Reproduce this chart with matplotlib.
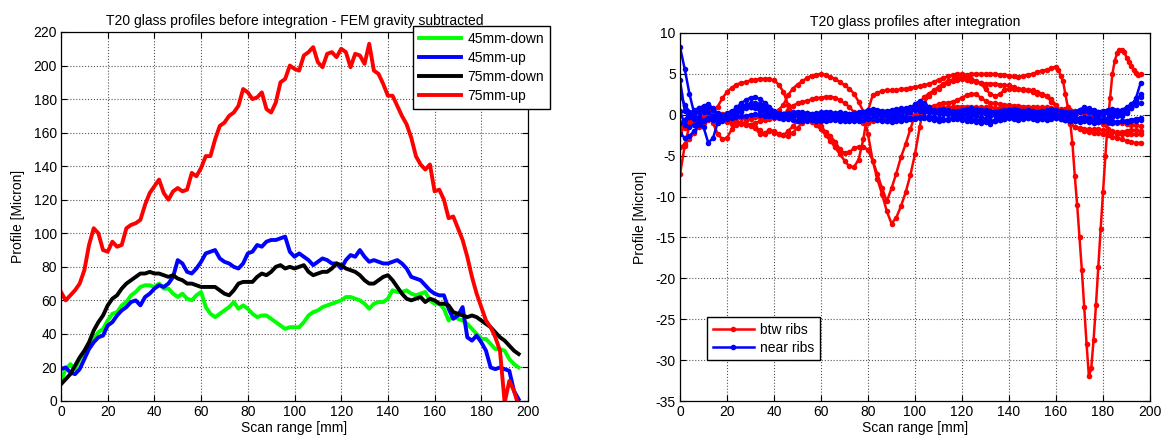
import numpy as np
import matplotlib
matplotlib.use("Agg")
import matplotlib.pyplot as plt

plt.rcParams['font.family'] = ['Liberation Sans', 'DejaVu Sans']
plt.rcParams['font.size'] = 10
plt.rcParams['axes.unicode_minus'] = False

# ---------------- left panel: profiles before integration ----------------
scan_mm = np.arange(0, 197, 2)

up_75 = [65, 60, 63, 66, 70, 78, 93, 103, 100, 90, 89, 95, 92, 93, 103, 105, 106, 108, 117, 124,
         128, 132, 124, 120, 125, 127, 125, 126, 136, 134, 139, 146, 146, 156, 164, 166, 170, 172, 176, 186,
         184, 180, 181, 184, 174, 172, 178, 190, 192, 200, 198, 197, 206, 208, 211, 202, 199, 207, 208, 205,
         210, 208, 199, 207, 206, 201, 213, 197, 195, 189, 182, 182, 176, 170, 165, 157, 146, 141, 138, 141,
         125, 126, 120, 109, 110, 103, 96, 86, 74, 64, 56, 48, 44, 38, 30, -1, 12, 6, -3]
up_45 = [19, 20, 17, 16, 19, 25, 31, 35, 38, 39, 45, 47, 51, 54, 56, 59, 60, 57, 62, 64,
         67, 69, 68, 70, 74, 84, 82, 77, 76, 79, 83, 88, 89, 90, 85, 83, 82, 80, 79, 82,
         88, 89, 93, 92, 95, 96, 96, 97, 98, 89, 86, 88, 86, 84, 81, 83, 85, 84, 82, 82,
         79, 84, 87, 86, 90, 86, 83, 84, 83, 82, 82, 83, 84, 82, 79, 74, 73, 72, 69, 66,
         64, 63, 63, 55, 49, 51, 56, 38, 36, 39, 35, 30, 20, 19, 20, 19, 18, 6, 1]
down_75 = [10, 13, 16, 21, 26, 30, 35, 42, 47, 51, 57, 61, 63, 67, 70, 72, 74, 76, 76, 77,
           76, 76, 75, 74, 75, 73, 72, 70, 70, 69, 68, 68, 68, 68, 66, 64, 63, 66, 70, 71,
           71, 71, 74, 76, 75, 77, 80, 81, 79, 80, 79, 80, 81, 77, 75, 76, 77, 77, 79, 82,
           81, 79, 78, 77, 75, 72, 70, 70, 72, 74, 75, 72, 68, 64, 61, 60, 61, 62, 59, 61,
           60, 58, 58, 57, 53, 52, 51, 50, 51, 50, 48, 46, 44, 41, 38, 36, 33, 30, 28]
down_45 = [12, 19, 22, 19, 25, 29, 33, 37, 41, 43, 48, 52, 53, 57, 59, 63, 65, 68, 69, 69,
           68, 70, 67, 67, 64, 62, 64, 61, 60, 63, 65, 56, 52, 50, 52, 54, 56, 59, 55, 57,
           55, 52, 50, 51, 51, 49, 47, 45, 43, 44, 44, 44, 47, 51, 53, 54, 56, 57, 58, 59,
           60, 62, 62, 61, 60, 58, 55, 58, 59, 59, 61, 66, 65, 65, 66, 64, 63, 64, 65, 60,
           58, 58, 55, 48, 51, 49, 48, 46, 43, 40, 37, 37, 34, 31, 31, 30, 25, 22, 20]

left_series = [("45mm-down", down_45, "#00ff00"),
               ("45mm-up", up_45, "#0000ff"),
               ("75mm-down", down_75, "#000000"),
               ("75mm-up", up_75, "#ff0000")]

# ---------------- right panel: profiles after integration ----------------
# "between ribs" scans
btw_1_x = list(range(0, 160, 2)) + list(range(160, 197))
btw_1 = [-1.8, -1.2, -0.8, -0.5, -0.3, -0.2, 0.0, 0.4, 1.0, 2.0, 2.8, 3.3, 3.7, 3.9, 4.0, 4.2, 4.3, 4.4, 4.4, 4.4,
         4.2, 3.7, 2.8, 1.2, 0.2, -0.2, -0.4, -0.6, -0.9, -1.3, -1.8, -2.5, -3.2, -4.0, -4.8, -5.6, -6.3, -6.4, -5.5, -3.0,
         0.5, 2.4, 2.7, 2.9, 3.0, 3.0, 3.0, 3.1, 3.2, 3.3, 3.4, 3.5, 3.6, 3.8, 4.0, 4.3, 4.5, 4.7, 4.9, 5.0,
         5.0, 4.9, 5.0, 5.0, 5.0, 5.0, 5.0, 5.0, 4.9, 4.9, 4.8, 4.7, 4.6, 4.8, 4.9, 5.0, 5.2, 5.4, 5.5, 5.7,
         5.9, 5.5, 4.8, 4.1, 2.5, 1.0, -0.8, -3.5, -7.5, -11.0, -15.0, -19.0, -23.5, -28.0, -32.0, -31.0, -27.5,
         -23.3, -18.6, -14.0, -9.5, -5.1, -1.0, 2.0, 5.0, 6.6, 7.5, 7.9, 7.9, 7.7, 7.0, 6.5, 6.0, 5.5, 5.1, 4.9, 5.0]
btw_2 = [-4.0, -3.6, -3.0, -2.2, -1.5, -1.0, -0.6, -0.3, -0.2, -0.3, -0.5, -0.6, -0.8, -1.0, -1.1, -1.2, -1.0, -0.8, -0.6, -0.2,
         0.2, 0.6, 1.2, 2.4, 3.2, 3.7, 4.1, 4.5, 4.8, 4.9, 5.0, 4.9, 4.6, 4.4, 4.0, 3.6, 3.2, 2.6, 1.6, 0.4,
         -2.4, -5.6, -7.9, -9.7, -11.8, -13.3, -12.6, -11.2, -9.5, -7.4, -4.8, -1.5, 1.5, 2.3, 2.8, 3.2, 3.6, 3.9, 4.1, 4.3,
         4.4, 4.3, 4.1, 4.0, 3.9, 3.8, 3.8, 3.8, 3.7, 3.6, 3.6, 3.4, 3.2, 3.1, 3.0, 2.8, 2.6, 2.4, 2.3, 1.6,
         1.0, 0.5, -0.3, -1.0, -1.5, -1.8, -2.0, -2.1, -2.2, -2.2, -2.4, -2.5, -2.7, -2.8, -3.0, -3.2, -3.3, -3.5, -3.4]
btw_3 = [-1.5, -1.0, -0.5, 0.0, 0.5, 0.6, 0.2, -1.0, -2.3, -3.0, -2.8, -1.8, -1.2, -1.0, -1.1, -1.3, -1.5, -1.9, -2.4, -2.0,
         -2.2, -2.4, -2.5, -2.0, -1.4, -0.8, -0.3, -0.1, -0.3, -0.8, -1.4, -2.1, -2.6, -3.3, -4.2, -4.7, -4.6, -4.1, -3.9, -3.9,
         -4.3, -5.6, -7.3, -9.0, -10.6, -9.0, -7.2, -5.2, -3.6, -1.8, 0.0, 1.5, 2.2, 2.6, 3.0, 3.4, 3.8, 4.1, 4.3, 4.5,
         4.6, 4.6, 4.4, 4.1, 3.9, 3.1, 2.6, 2.3, 2.5, 3.0, 3.2, 3.2, 3.1, 3.0, 3.0, 3.0, 2.8, 2.6, 2.3, 1.9,
         1.2, 0.3, -0.6, -1.1, -1.5, -1.6, -1.7, -1.8, -1.8, -1.8, -1.9, -2.0, -2.1, -2.1, -2.1, -2.0, -1.9, -1.9, -2.0]
btw_4 = [-2.0, -1.6, -1.2, -0.8, -0.5, -0.3, -0.2, -0.1, 0.0, 0.1, 0.1, 0.0, -0.2, -0.4, -0.6, -0.5, -0.3, -0.3, -0.4, -0.5,
         -0.4, -0.2, 0.1, 0.6, 1.1, 1.4, 1.6, 1.7, 1.9, 2.0, 2.1, 2.2, 2.2, 2.1, 1.8, 1.4, 1.0, 0.3, -0.6, -1.0,
         -1.0, -0.8, -0.6, -0.5, -0.4, -0.4, -0.4, -0.3, -0.3, -0.2, -0.1, 0.2, 0.6, 0.9, 1.1, 1.3, 1.4, 1.5, 1.6, 1.8,
         2.1, 2.4, 2.6, 2.5, 2.1, 1.7, 1.5, 1.4, 1.3, 1.2, 1.2, 1.1, 1.1, 1.0, 1.0, 0.9, 0.9, 0.9, 0.9, 0.8,
         0.5, 0.5, 0.5, 0.4, 0.4, 0.3, 0.3, 0.1, -0.2, -0.6, -1.1, -1.7, -2.0, -2.3, -2.4, -2.4, -2.4, -2.4, -2.3]
btw_5 = [-7.3, -3.8, -1.3, 0.2, 0.8, 0.9, 0.8, 0.5, 0.1, -0.4, -0.9, -1.1, -1.1, -1.1, -1.2, -1.4, -1.6, -2.4, -2.2, -1.9,
         -2.0, -2.3, -2.5, -2.6, -2.2, -1.6, -1.0, -0.5, -0.2, 0.0, 0.1, 0.2, 0.2, 0.1, 0.0, -0.1, -0.2, -0.3, -0.4, -0.4,
         -0.4, -0.4, -0.5, -0.5, -0.5, -0.4, -0.3, -0.3, -0.2, -0.1, 0.0, 0.2, 0.4, 0.6, 0.7, 0.8, 0.8, 0.9, 0.9, 1.0,
         1.0, 1.0, 1.0, 0.9, 0.9, 0.9, 0.9, 0.8, 0.8, 0.8, 0.8, 0.8, 0.8, 0.7, 0.7, 0.7, 0.7, 0.7, 0.6, 0.6,
         0.6, 0.7, 0.7, 0.6, 0.5, 0.4, 0.2, 0.0, -0.3, -0.6, -0.9, -1.0, -1.0, -1.0, -1.0, -1.1, -1.2, -1.3, -1.4]

# "near ribs" scans
near_1 = [8.3, 5.6, 2.6, 0.2, -0.8, -1.5, -3.4, -2.9, -1.0, -0.4, -0.2, 0.0, 0.2, 0.5, 0.9, 1.2, 1.1, 0.8, 0.5, 0.3,
          0.2, 0.1, 0.1, 0.0, 0.1, 0.2, 0.1, 0.0, -0.1, 0.0, 0.1, 0.2, 0.1, 0.0, -0.1, -0.2, -0.1, 0.0, 0.1, 0.3,
          0.5, 0.4, 0.3, 0.2, 0.2, 0.1, 0.1, 0.2, 0.3, 0.4, 0.6, 0.5, 0.4, 0.3, 0.2, 0.2, 0.1, 0.1, 0.2, 0.3,
          0.2, 0.1, 0.0, 0.1, 0.2, 0.1, -0.2, 0.0, 0.1, 0.1, 0.2, 0.3, 0.2, 0.1, 0.0, 0.1, 0.2, 0.2, 0.3, 0.2,
          0.1, 0.0, -0.2, -0.3, 0.0, 0.3, 0.5, 0.4, 0.1, -0.1, 0.0, 0.2, 0.1, 0.0, 0.1, 0.4, 1.0, 2.0, 3.9]
near_2 = [4.2, 0.5, -0.3, -0.5, -0.3, 0.4, 1.0, 0.6, -0.1, -0.3, -0.2, 0.3, 0.9, 1.4, 1.8, 2.1, 2.2, 1.9, 1.5, 1.0,
          0.5, 0.1, -0.1, -0.2, -0.1, 0.0, -0.1, -0.3, -0.4, -0.3, -0.2, -0.1, -0.2, -0.3, -0.4, -0.5, -0.4, -0.3, -0.2, -0.1,
          0.0, 0.1, 0.0, -0.1, -0.2, -0.3, -0.2, 0.0, 0.3, 0.8, 1.3, 1.7, 1.5, 0.9, 0.5, 0.3, 0.2, 0.1, 0.0, -0.1,
          0.0, 0.1, 0.0, -0.2, -0.3, -0.5, -0.9, -0.6, -0.3, -0.2, -0.1, 0.0, 0.1, 0.0, -0.1, -0.2, -0.1, 0.0, 0.1, 0.0,
          -0.1, -0.2, -0.3, -0.4, -0.5, -0.4, -0.3, -0.4, -0.5, -0.6, -0.5, -0.4, -0.3, -0.2, -0.1, 0.2, 0.8, 1.6, 2.5]
near_3 = [2.5, 1.2, 0.4, 0.0, 0.3, 0.6, 0.3, -0.2, -0.5, -0.4, -0.1, 0.2, 0.6, 0.9, 1.2, 1.4, 1.5, 1.3, 1.0, 0.7,
          0.4, 0.2, 0.1, 0.2, 0.3, 0.4, 0.3, 0.2, 0.1, 0.2, 0.3, 0.4, 0.3, 0.2, 0.1, 0.0, 0.1, 0.2, 0.3, 0.4,
          0.6, 0.7, 0.6, 0.5, 0.4, 0.4, 0.5, 0.6, 0.7, 0.8, 0.9, 0.8, 0.7, 0.6, 0.5, 0.6, 0.7, 0.6, 0.5, 0.4,
          0.5, 0.6, 0.5, 0.4, 0.5, 0.6, 0.5, 0.4, 0.5, 0.6, 0.6, 0.5, 0.4, 0.5, 0.6, 0.5, 0.4, 0.5, 0.6, 0.7,
          0.6, 0.5, 0.4, 0.3, 0.4, 0.6, 0.8, 0.7, 0.5, 0.4, 0.5, 0.6, 0.5, 0.4, 0.6, 0.9, 1.3, 1.8, 2.2]
near_4 = [-2.3, -2.8, -2.6, -2.0, -1.3, -0.8, -0.5, -0.6, -0.8, -0.7, -0.5, -0.4, -0.3, -0.2, -0.1, 0.0, 0.1, 0.0, -0.1, -0.2,
          -0.3, -0.4, -0.5, -0.4, -0.3, -0.2, -0.3, -0.4, -0.5, -0.6, -0.5, -0.4, -0.5, -0.6, -0.7, -0.6, -0.5, -0.6, -0.7, -0.6,
          -0.5, -0.4, -0.5, -0.6, -0.7, -0.6, -0.5, -0.4, -0.3, -0.4, -0.5, -0.4, -0.3, -0.2, -0.3, -0.4, -0.5, -0.6, -0.5, -0.4,
          -0.3, -0.4, -0.5, -0.6, -0.7, -0.8, -1.1, -0.8, -0.6, -0.5, -0.4, -0.5, -0.6, -0.5, -0.4, -0.3, -0.4, -0.5, -0.6, -0.5,
          -0.4, -0.5, -0.6, -0.7, -0.8, -0.7, -0.6, -0.7, -0.8, -0.9, -0.8, -0.7, -0.8, -0.9, -0.8, -0.7, -0.6, -0.5, -0.4]
near_5 = [-1.0, -0.6, 0.1, 0.6, 0.8, 1.1, 1.3, 0.8, 0.2, -0.2, -0.4, -0.3, 0.0, 0.4, 0.8, 1.0, 0.9, 0.7, 0.4, 0.1,
          -0.1, -0.2, -0.3, -0.2, -0.1, 0.0, 0.1, 0.2, 0.1, 0.0, -0.1, 0.0, 0.1, 0.2, 0.3, 0.2, 0.1, 0.0, -0.1, 0.0,
          0.1, 0.2, 0.3, 0.4, 0.5, 0.6, 0.7, 0.8, 0.8, 0.9, 1.0, 1.1, 0.9, 0.7, 0.6, 0.5, 0.4, 0.3, 0.4, 0.5,
          0.6, 0.7, 0.8, 0.7, 0.6, 0.5, 0.4, 0.3, 0.4, 0.5, 0.6, 0.7, 0.6, 0.5, 0.4, 0.3, 0.2, 0.1, 0.0, -0.1,
          -0.2, -0.3, -0.2, 0.0, 0.3, 0.6, 0.9, 0.8, 0.6, 0.4, 0.3, 0.5, 0.7, 0.6, 0.5, 0.6, 0.8, 1.2, 1.5]
near_6 = [0.5, -1.2, -1.5, -1.2, -0.9, -0.6, -0.4, -0.3, -0.2, 0.0, 0.2, 0.5, 0.7, 0.9, 1.1, 1.0, 0.8, 0.5, 0.2, 0.0,
          -0.2, -0.3, -0.4, -0.5, -0.6, -0.7, -0.8, -0.7, -0.6, -0.7, -0.8, -0.7, -0.6, -0.5, -0.6, -0.7, -0.8, -0.7, -0.6, -0.5,
          -0.4, -0.5, -0.6, -0.7, -0.8, -0.9, -0.8, -0.7, -0.6, -0.5, -0.4, -0.3, -0.4, -0.5, -0.6, -0.7, -0.6, -0.5, -0.4, -0.5,
          -0.6, -0.7, -0.8, -0.9, -1.0, -0.9, -0.8, -0.7, -0.6, -0.5, -0.4, -0.3, -0.2, -0.3, -0.4, -0.5, -0.6, -0.5, -0.4, -0.3,
          -0.4, -0.5, -0.6, -0.7, -0.8, -0.9, -0.8, -0.9, -1.0, -0.9, -0.8, -0.9, -1.0, -0.9, -0.8, -0.9, -0.8, -0.7, -0.6]

btw_scans = [(btw_1_x, btw_1), (scan_mm, btw_2), (scan_mm, btw_3), (scan_mm, btw_4), (scan_mm, btw_5)]
near_scans = [near_1, near_2, near_3, near_4, near_5, near_6]

# ---------------- figure ----------------
W, H = 1170, 441
fig = plt.figure(figsize=(W / 100, H / 100), dpi=100)
ax1 = fig.add_axes([61 / W, 1 - 401 / H, (528 - 61) / W, (401 - 32) / H])
ax2 = fig.add_axes([680 / W, 1 - 401 / H, (1150 - 680) / W, (401 - 33) / H])


def matlab_style(ax):
    ax.grid(True, linestyle=':', color='#555555', linewidth=0.8)
    ax.set_axisbelow(True)
    ax.tick_params(direction='in', top=True, right=True, length=4, width=0.8,
                   labelsize=10, pad=3)
    for sp in ax.spines.values():
        sp.set_linewidth(0.9)
        sp.set_color('black')


for name, vals, col in left_series:
    ax1.plot(scan_mm, vals, color=col, linewidth=2.8, label=name, solid_joinstyle='round')
ax1.set_xlim(0, 200)
ax1.set_ylim(0, 220)
ax1.set_xticks(range(0, 201, 20))
ax1.set_yticks(range(0, 221, 20))
matlab_style(ax1)
ax1.set_title("T20 glass profiles before integration - FEM gravity subtracted", fontsize=10, pad=5)
ax1.set_xlabel("Scan range [mm]", fontsize=10, labelpad=1)
ax1.set_ylabel("Profile [Micron]", fontsize=10, labelpad=6)
leg1 = ax1.legend(loc='upper left', bbox_to_anchor=(413 / W, 1 - 26 / H),
                  bbox_transform=fig.transFigure, fancybox=False, framealpha=1,
                  edgecolor='black', handlelength=3.0, handletextpad=0.45,
                  labelspacing=0.35, borderpad=0.45, fontsize=10, borderaxespad=0)
leg1.get_frame().set_linewidth(1.0)

marker_kw = dict(marker='o', markersize=4.0, markeredgewidth=0, linewidth=1.8)
for i, (xs, ys) in enumerate(btw_scans):
    ax2.plot(xs, ys, color='#ff0000', label="btw ribs" if i == 0 else None, **marker_kw)
for i, ys in enumerate(near_scans):
    ax2.plot(scan_mm, ys, color='#0000ff', label="near ribs" if i == 0 else None, **marker_kw)
ax2.set_xlim(0, 200)
ax2.set_ylim(-35, 10)
ax2.set_xticks(range(0, 201, 20))
ax2.set_yticks(range(-35, 11, 5))
matlab_style(ax2)
ax2.set_title("T20 glass profiles after integration", fontsize=10, pad=5)
ax2.set_xlabel("Scan range [mm]", fontsize=10, labelpad=1)
ax2.set_ylabel("Profile [Micron]", fontsize=10, labelpad=6)
leg2 = ax2.legend(loc='upper left', bbox_to_anchor=(707 / W, 1 - 317 / H),
                  bbox_transform=fig.transFigure, fancybox=False, framealpha=1,
                  edgecolor='black', handlelength=3.0, handletextpad=0.45,
                  labelspacing=0.3, borderpad=0.4, fontsize=10, numpoints=1, borderaxespad=0)
leg2.get_frame().set_linewidth(1.0)

fig.savefig("out.png", dpi=100)
